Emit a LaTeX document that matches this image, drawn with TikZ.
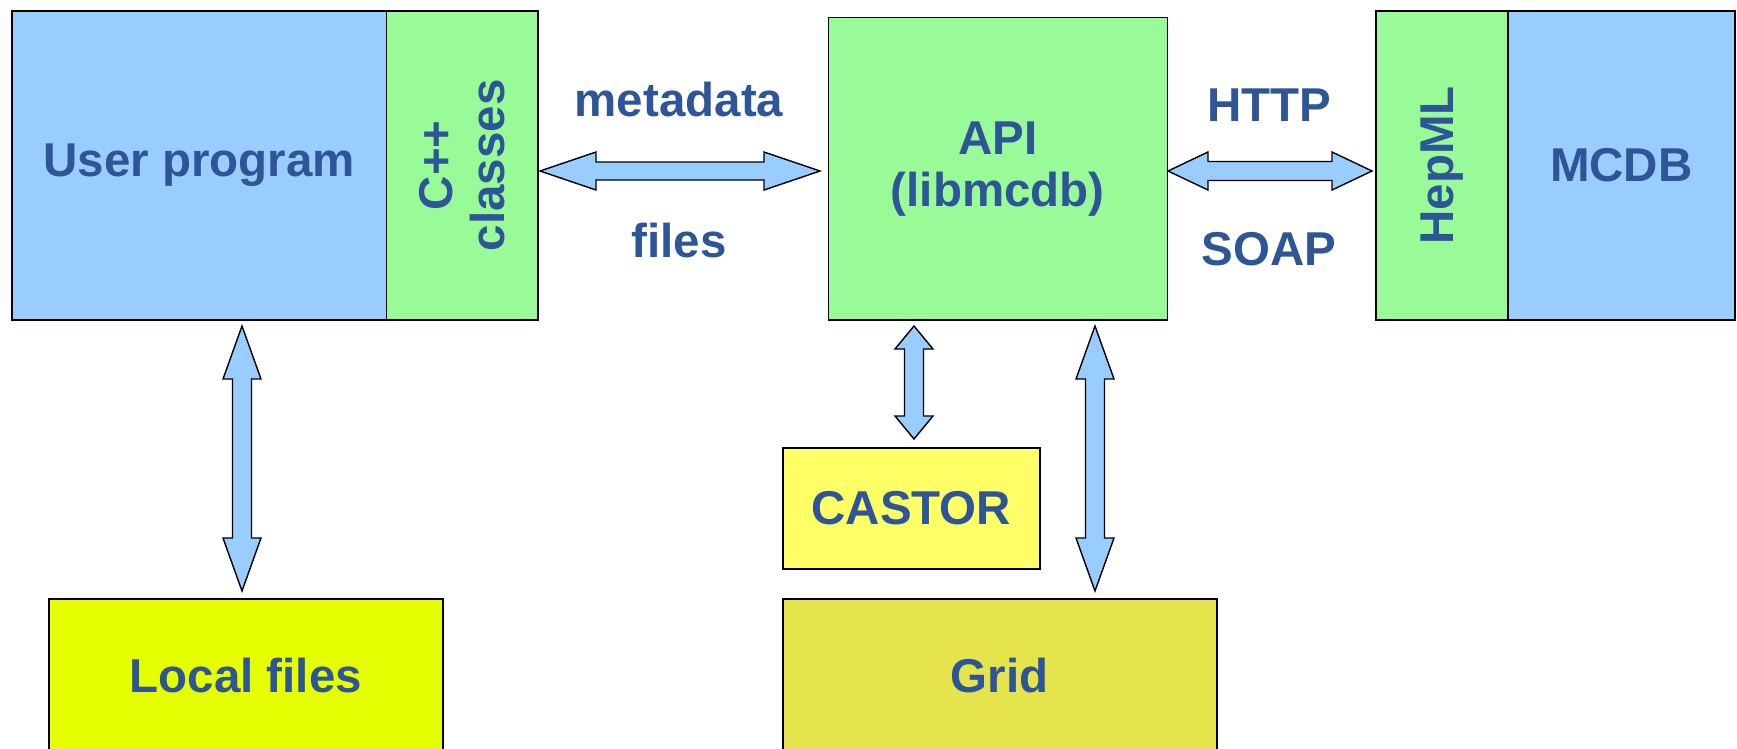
\documentclass[tikz,border=0pt]{standalone}
\usepackage{fontspec}
\setmainfont{Liberation Sans}
\usetikzlibrary{calc}
\definecolor{txtblue}{HTML}{2E5597}
\definecolor{boxblue}{HTML}{99CCFF}
\definecolor{boxgreen}{HTML}{99FB98}
\definecolor{lfyellow}{HTML}{E6FF00}
\definecolor{castoryellow}{HTML}{FFFF66}
\definecolor{gridyellow}{HTML}{E6E44C}
\tikzset{
  box/.style={draw=black, line width=1.6pt, rectangle, anchor=north west, inner sep=0pt,
    font=\fontsize{47.5}{52}\selectfont\bfseries, text=txtblue, align=center},
  lbl/.style={inner sep=0pt, font=\fontsize{47.5}{52}\selectfont\bfseries, text=txtblue, align=center},
  fatarrow/.style={draw=black, fill=boxblue, line width=1.4pt, line join=miter}
}
\newcommand\fatharrow[5]{%
  \draw[fatarrow] (#1) -- ($(#1)+(#3,#4)$) -- ($(#1)+(#3,#5)$) -- ($(#2)+(-#3,#5)$) -- ($(#2)+(-#3,#4)$) -- (#2)
   -- ($(#2)+(-#3,-#4)$) -- ($(#2)+(-#3,-#5)$) -- ($(#1)+(#3,-#5)$) -- ($(#1)+(#3,-#4)$) -- cycle;}
\newcommand\fatvarrow[5]{%
  \draw[fatarrow] (#1) -- ($(#1)+(#4,#3)$) -- ($(#1)+(#5,#3)$) -- ($(#2)+(#5,-#3)$) -- ($(#2)+(#4,-#3)$) -- (#2)
   -- ($(#2)+(-#4,-#3)$) -- ($(#2)+(-#5,-#3)$) -- ($(#1)+(-#5,#3)$) -- ($(#1)+(-#4,#3)$) -- cycle;}
\begin{document}
\begin{tikzpicture}[x=1pt, y={(0pt,-1pt)}]
\useasboundingbox[fill=white] (0,0) rectangle (1737,748);
% boxes
\node[box, fill=boxblue, minimum width=374.5pt, minimum height=309pt] (up) at (11,10) {User program};
\node[box, fill=boxgreen, minimum width=151.5pt, minimum height=309pt] (cpp) at (385.5,10) {};
\node[lbl, rotate=90] (cpptxt) at (cpp.center) {C++\\classes};
\node[box, fill=boxgreen, minimum width=339pt, minimum height=302.4pt] (api) at (827.5,16.6) {API\\(libmcdb)};
\node[box, fill=boxgreen, minimum width=132pt, minimum height=309pt] (hepml) at (1375,10) {};
\node[lbl, rotate=90] (hepmltxt) at (hepml.center) {HepML};
\node[box, fill=boxblue, minimum width=227pt, minimum height=309pt] (mcdb) at (1507,10) {MCDB};
\node[box, fill=castoryellow, minimum width=257pt, minimum height=121pt] (castor) at (782,447) {CASTOR};
\node[box, fill=gridyellow, minimum width=434pt, minimum height=154pt] (grid) at (782,598) {Grid};
\node[box, fill=lfyellow, minimum width=394pt, minimum height=154pt] (local) at (48,598) {Local files};
% labels
\node[lbl] (meta) at (679,100) {metadata};
\node[lbl] (files) at (679,241) {files};
\node[lbl] (http) at (1269,105) {HTTP};
\node[lbl] (soap) at (1269,249) {SOAP};
% arrow end points
\coordinate (m1) at (540,171);
\coordinate (m2) at (820,171);
\coordinate (h1) at (1168,171);
\coordinate (h2) at (1372,171);
\coordinate (l1) at (242,326);
\coordinate (l2) at (242,591);
\coordinate (c1) at (914,326);
\coordinate (c2) at (914,439);
\coordinate (g1) at (1095,326);
\coordinate (g2) at (1095,591);
% arrows
\fatharrow{m1}{m2}{56}{19}{9}
\fatharrow{h1}{h2}{40}{19}{9.5}
\fatvarrow{l1}{l2}{53}{19}{9.5}
\fatvarrow{c1}{c2}{23}{19}{9.5}
\fatvarrow{g1}{g2}{53}{19}{9.5}
\end{tikzpicture}
\end{document}
